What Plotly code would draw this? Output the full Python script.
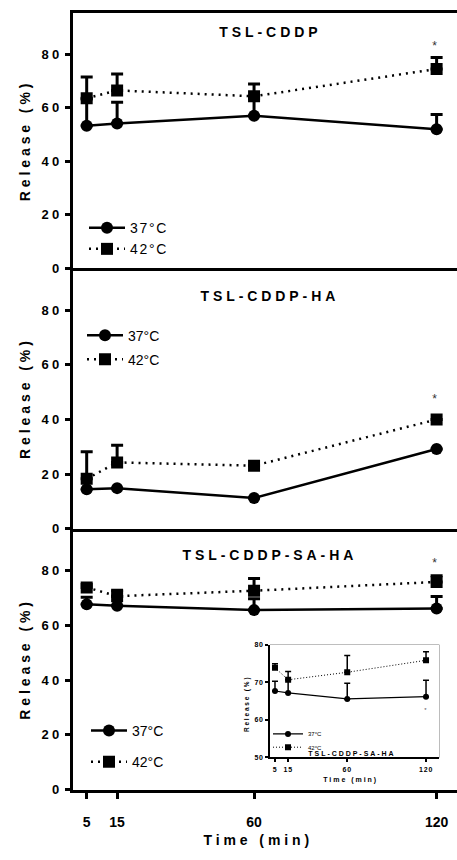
import plotly.graph_objects as go

# ---------------- data ----------------
times = [5, 15, 60, 120]
tick_vals_x = [5, 15, 60, 120]
tick_vals_y = [0, 20, 40, 60, 80]
inset_tick_vals_y = [50, 60, 70, 80]

panel_titles = ["TSL-CDDP", "TSL-CDDP-HA", "TSL-CDDP-SA-HA"]
series_names = ["37°C", "42°C"]

cddp_37 = [53.3, 54.1, 57.0, 52.0]
cddp_37_err = [10.0, 8.0, 6.5, 5.5]
cddp_42 = [63.6, 66.5, 64.3, 74.5]
cddp_42_err = [7.9, 6.1, 4.6, 4.3]

ha_37 = [14.5, 14.9, 11.3, 29.2]
ha_37_err = [0, 0, 0, 0]
ha_42 = [18.3, 24.3, 23.1, 40.0]
ha_42_err = [9.9, 6.3, 0, 0]

saha_37 = [67.7, 67.2, 65.6, 66.2]
saha_37_err = [2.6, 3.5, 4.2, 4.4]
saha_42 = [73.9, 70.7, 72.7, 75.9]
saha_42_err = [1.1, 2.2, 4.5, 2.3]

star_time = 120
star_y = [83.0, 47.5, 82.7]
inset_star_y = 62.6

# ---------------- figure ----------------
W, H = 457, 860
FONT = "Liberation Sans, Arial, sans-serif"
fig = go.Figure()

def py(p):  # pixel (from top) -> paper fraction
    return 1 - p / H

def px(p):
    return p / W

def label(text, x, y, size, bold=True, angle=0, color="black"):
    fig.add_annotation(text=text, xref="paper", yref="paper", x=px(x), y=py(y),
                       xanchor="center", yanchor="middle", textangle=angle,
                       showarrow=False,
                       font=dict(family=FONT, size=size, color=color,
                                 weight="bold" if bold else "normal"))

panels = [
    (cddp_37, cddp_37_err, cddp_42, cddp_42_err),
    (ha_37, ha_37_err, ha_42, ha_42_err),
    (saha_37, saha_37_err, saha_42, saha_42_err),
]
ydomains = [[py(268), py(9.5)], [py(532.3), py(268)], [py(796.7), py(532.3)]]
ycenters = [138.7, 400, 664.5]
title_y = [28, 296, 559]
legend_pos = [(84, 211, 0), (82, 320, 3), (86, 721, 10)]

for i, (a, ae, b, be) in enumerate(panels):
    ax = "" if i == 0 else str(i + 1)
    lg = "legend" if i == 0 else f"legend{i+1}"
    fig.add_trace(go.Scatter(
        x=times, y=a, name=series_names[0], mode="lines+markers",
        xaxis="x" + ax, yaxis="y" + ax, legend=lg, legendgroup=f"a{i}",
        line=dict(color="black", width=2.5),
        marker=dict(symbol="circle", size=12, color="black"),
        error_y=dict(type="data", array=ae, arrayminus=[0] * 4, symmetric=False,
                     color="black", thickness=3, width=6),
    ))
    fig.add_trace(go.Scatter(
        x=times, y=b, name=series_names[1], mode="lines+markers",
        xaxis="x" + ax, yaxis="y" + ax, legend=lg, legendgroup=f"b{i}",
        line=dict(color="black", width=2.5, dash="2px,5px"),
        marker=dict(symbol="square", size=12, color="black"),
        error_y=dict(type="data", array=be, arrayminus=[0] * 4, symmetric=False,
                     color="black", thickness=3, width=6),
    ))
    last = (i == 2)
    fig.update_layout({
        "xaxis" + ax: dict(
            domain=[px(73), 1], range=[0.5, 126.7], showline=True, linewidth=3,
            linecolor="black", mirror=(i == 0), showgrid=False, zeroline=False,
            tickmode="array", tickvals=tick_vals_x,
            ticks="outside" if last else "", ticklen=6, tickwidth=3, tickcolor="black",
            showticklabels=last, ticklabelstandoff=12,
            tickfont=dict(family=FONT, size=14, color="black", weight="bold"),
            anchor="y" + ax,
        ),
        "yaxis" + ax: dict(
            domain=ydomains[i], range=[0, 95.3], showline=True, linewidth=3,
            linecolor="black", showgrid=False, zeroline=False,
            tickmode="array", tickvals=tick_vals_y, ticks="outside", ticklen=5,
            tickwidth=3, tickcolor="black",
            tickfont=dict(family=FONT, size=13, color="black", weight="bold"),
            anchor="x" + ax,
        ),
        lg: dict(
            x=px(legend_pos[i][0]), y=py(legend_pos[i][1]), xanchor="left", yanchor="top",
            bgcolor="rgba(0,0,0,0)", borderwidth=0, tracegroupgap=legend_pos[i][2],
            font=dict(family=FONT, size=14, color="black"), itemwidth=36,
        ),
    })
    label(panel_titles[i], 270, title_y[i], 14)
    label("Release (%)", 25, ycenters[i], 14, angle=-90)
    fig.add_annotation(text="*", xref="x" + ax, yref="y" + ax, x=star_time, y=star_y[i],
                       xanchor="center", yanchor="middle",
                       showarrow=False, font=dict(family=FONT, size=12, color="#333"))

label("Time (min)", 258, 848, 14)

# ---------------- inset ----------------
fig.add_trace(go.Scatter(
    x=times, y=saha_37, name=series_names[0], mode="lines+markers",
    xaxis="x4", yaxis="y4", legend="legend4",
    line=dict(color="black", width=1.2),
    marker=dict(symbol="circle", size=6, color="black"),
    error_y=dict(type="data", array=saha_37_err, arrayminus=[0] * 4, symmetric=False,
                 color="black", thickness=1.5, width=3),
))
fig.add_trace(go.Scatter(
    x=times, y=saha_42, name=series_names[1], mode="lines+markers",
    xaxis="x4", yaxis="y4", legend="legend5",
    line=dict(color="black", width=1, dash="1px,2px"),
    marker=dict(symbol="square", size=6, color="black"),
    error_y=dict(type="data", array=saha_42_err, arrayminus=[0] * 4, symmetric=False,
                 color="black", thickness=1.5, width=3),
))
inset_legend = dict(xanchor="left", yanchor="top", bgcolor="rgba(0,0,0,0)", borderwidth=0,
                    font=dict(family=FONT, size=6, color="black"), itemwidth=30)
fig.update_layout(
    xaxis4=dict(domain=[px(270), px(439.3)], range=[1.2, 130.1], anchor="y4",
                showline=True, linewidth=1.5, linecolor="black", showgrid=False,
                zeroline=False, tickmode="array", tickvals=tick_vals_x, ticks="outside",
                ticklen=3, tickwidth=1.5, tickcolor="black", ticklabelstandoff=2,
                tickfont=dict(family=FONT, size=7, color="black", weight="bold")),
    yaxis4=dict(domain=[py(764), py(650)], range=[50, 80], anchor="x4",
                showline=True, linewidth=1.5, linecolor="black", showgrid=False,
                zeroline=False, tickmode="array", tickvals=inset_tick_vals_y,
                ticks="outside", ticklen=3, tickwidth=1.5, tickcolor="black",
                tickfont=dict(family=FONT, size=7, color="black", weight="bold")),
    legend4=dict(x=px(268), y=py(725.5), **inset_legend),
    legend5=dict(x=px(268), y=py(739), **inset_legend),
)
fig.add_shape(type="rect", xref="x4 domain", yref="y4 domain", x0=0, x1=1, y0=0, y1=1,
              line=dict(color="#888", width=1), layer="below")
label("TSL-CDDP-SA-HA", 352, 760, 7)
label("Time (min)", 350, 787, 7)
label("Release (%)", 247, 710, 6.5, angle=-90)
fig.add_annotation(text="*", xref="x4", yref="y4", x=star_time, y=inset_star_y,
                   xanchor="center", yanchor="middle",
                   showarrow=False, font=dict(family=FONT, size=6, color="#555"))

fig.update_layout(
    width=W, height=H, margin=dict(l=0, r=0, t=0, b=0),
    paper_bgcolor="white", plot_bgcolor="white", showlegend=True,
    font=dict(family=FONT, color="black"),
)

post = """
var s = document.createElement('style');
s.textContent = '.annotation-text{letter-spacing:0.28em;} .legendtext{letter-spacing:0.12em;}'
 + ' .xtick text{letter-spacing:0.2em;} .ytick text,.y2tick text,.y3tick text{letter-spacing:0.25em;}'
 + ' .x4tick text,.y4tick text{letter-spacing:0.12em;}';
document.head.appendChild(s);
"""
fig.write_html("out.html", post_script=post, config={"displayModeBar": False})
